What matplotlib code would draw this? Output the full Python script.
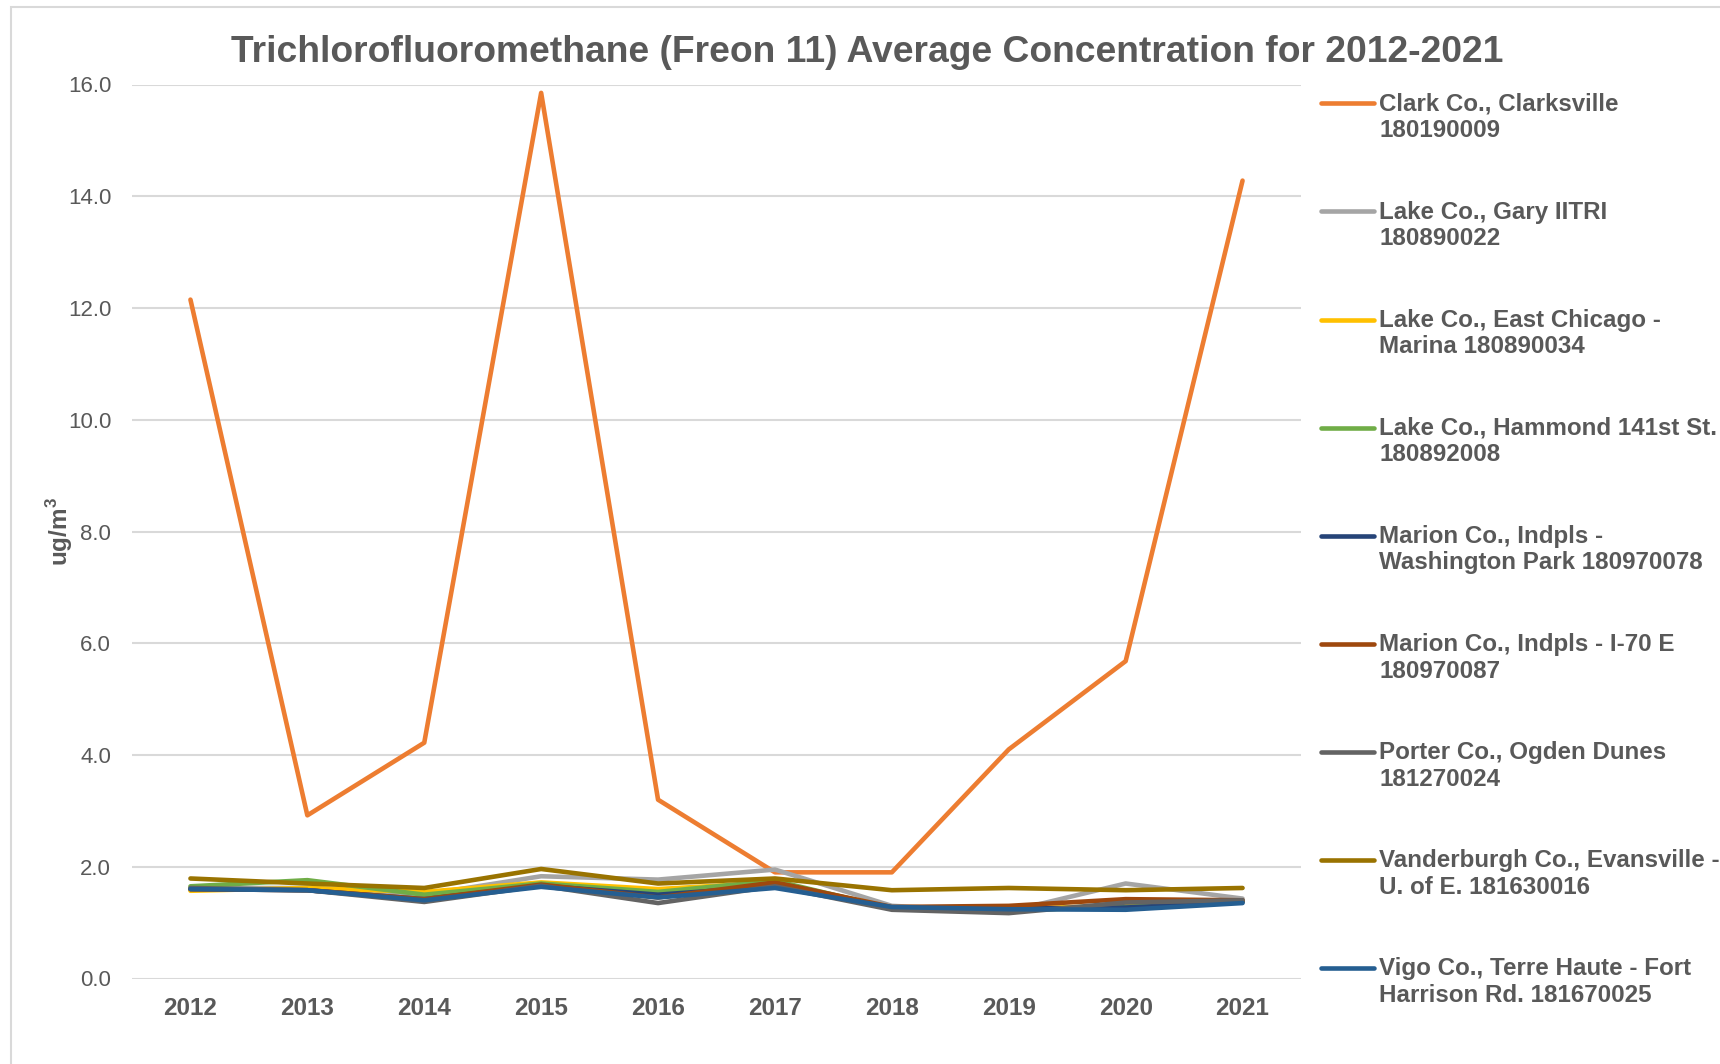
import matplotlib
matplotlib.use("Agg")
import matplotlib.pyplot as plt
from matplotlib.legend_handler import HandlerLine2D
from matplotlib.lines import Line2D
from matplotlib.patches import Rectangle

years = [2012, 2013, 2014, 2015, 2016, 2017, 2018, 2019, 2020, 2021]

series_names = [
    "Clark Co., Clarksville\n180190009",
    "Lake Co., Gary IITRI\n180890022",
    "Lake Co., East Chicago -\nMarina 180890034",
    "Lake Co., Hammond 141st St.\n180892008",
    "Marion Co., Indpls -\nWashington Park 180970078",
    "Marion Co., Indpls - I-70 E\n180970087",
    "Porter Co., Ogden Dunes\n181270024",
    "Vanderburgh Co., Evansville -\nU. of E. 181630016",
    "Vigo Co., Terre Haute - Fort\nHarrison Rd. 181670025",
]

clark = [12.15, 2.92, 4.22, 15.85, 3.20, 1.90, 1.90, 4.10, 5.68, 14.28]
gary = [1.62, 1.62, 1.50, 1.83, 1.77, 1.95, 1.30, 1.20, 1.70, 1.43]
east_chicago = [1.57, 1.62, 1.55, 1.72, 1.60, 1.72, 1.27, 1.25, 1.30, 1.38]
hammond = [1.65, 1.76, 1.50, 1.70, 1.55, 1.75, 1.25, 1.22, 1.28, 1.38]
washington_park = [1.60, 1.58, 1.42, 1.66, 1.50, 1.65, 1.27, 1.25, 1.27, 1.37]
i70e = [1.60, 1.58, 1.42, 1.68, 1.45, 1.72, 1.28, 1.30, 1.42, 1.40]
porter = [1.62, 1.58, 1.37, 1.66, 1.35, 1.65, 1.23, 1.17, 1.36, 1.40]
vanderburgh = [1.79, 1.70, 1.62, 1.96, 1.70, 1.79, 1.58, 1.62, 1.58, 1.62]
vigo = [1.60, 1.58, 1.40, 1.64, 1.45, 1.62, 1.28, 1.24, 1.23, 1.35]

all_series = [clark, gary, east_chicago, hammond, washington_park, i70e, porter, vanderburgh, vigo]
colors = ["#ED7D31", "#A5A5A5", "#FFC000", "#70AD47", "#264478",
          "#9E480E", "#636363", "#997300", "#255E91"]

y_ticks = [0, 2, 4, 6, 8, 10, 12, 14, 16]

TXT = "#595959"
plt.rcParams["font.family"] = ["Liberation Sans", "DejaVu Sans"]
plt.rcParams["mathtext.fontset"] = "custom"
plt.rcParams["mathtext.bf"] = "Liberation Sans:bold"
plt.rcParams["mathtext.rm"] = "Liberation Sans"

fig = plt.figure(figsize=(17.2, 10.64), dpi=100)
fig.patch.set_facecolor("white")
# chart-area border
fig.add_artist(Rectangle((11 / 1720, -0.01), 1.05, 1 - 7 / 1064 + 0.01, transform=fig.transFigure,
                         fill=False, edgecolor="#D9D9D9", lw=1.5))

ax = fig.add_axes([132 / 1720, 1 - 978.5 / 1064, (1301 - 132) / 1720, (978.5 - 84.5) / 1064])

xpos = list(range(len(years)))
for vals, name, col in zip(all_series, series_names, colors):
    ax.plot(xpos, vals, color=col, lw=3.3, solid_capstyle="round",
            solid_joinstyle="round", label=name)

ax.set_xlim(-0.5, len(years) - 0.5)
ax.set_ylim(0, 16)
ax.set_yticks(y_ticks)
ax.set_yticklabels([f"{v:.1f}" for v in y_ticks], fontsize=16, color=TXT)
ax.set_xticks(xpos)
ax.set_xticklabels([str(y) for y in years], fontsize=17.5, fontweight="bold", color=TXT)
ax.tick_params(axis="both", length=0)
ax.tick_params(axis="y", pad=15)
ax.tick_params(axis="x", pad=13)
ax.grid(axis="y", color="#D9D9D9", lw=1.5)
ax.set_axisbelow(True)
for s in ax.spines.values():
    s.set_visible(False)

ax.set_ylabel(r"ug/m$^{\mathbf{3}}$", fontsize=17.5, fontweight="bold", color=TXT, labelpad=-5)

fig.text(0.504, 1 - 52 / 1064, "Trichlorofluoromethane (Freon 11) Average Concentration for 2012-2021",
         ha="center", va="center", fontsize=26.8, fontweight="bold", color=TXT)


class TopLineHandler(HandlerLine2D):
    def create_artists(self, legend, orig_handle, xdescent, ydescent, width, height, fontsize, trans):
        arts = super().create_artists(legend, orig_handle, xdescent, ydescent, width, height, fontsize, trans)
        for a in arts:
            if isinstance(a, Line2D):
                yd = a.get_ydata()
                a.set_ydata([y + 0.6 * fontsize for y in yd])
        return arts


handles, labels = ax.get_legend_handles_labels()
leg = fig.legend(handles, labels, loc="upper left", bbox_to_anchor=(1321 / 1720, 1 - 92.5 / 1064),
                 frameon=False, fontsize=17.4, labelspacing=2.42, handlelength=2.18, handletextpad=0.23,
                 handler_map={Line2D: TopLineHandler()}, borderaxespad=0, borderpad=0)
for t in leg.get_texts():
    t.set_color(TXT)
    t.set_fontweight("bold")

fig.savefig("out.png", dpi=100, facecolor="white")
